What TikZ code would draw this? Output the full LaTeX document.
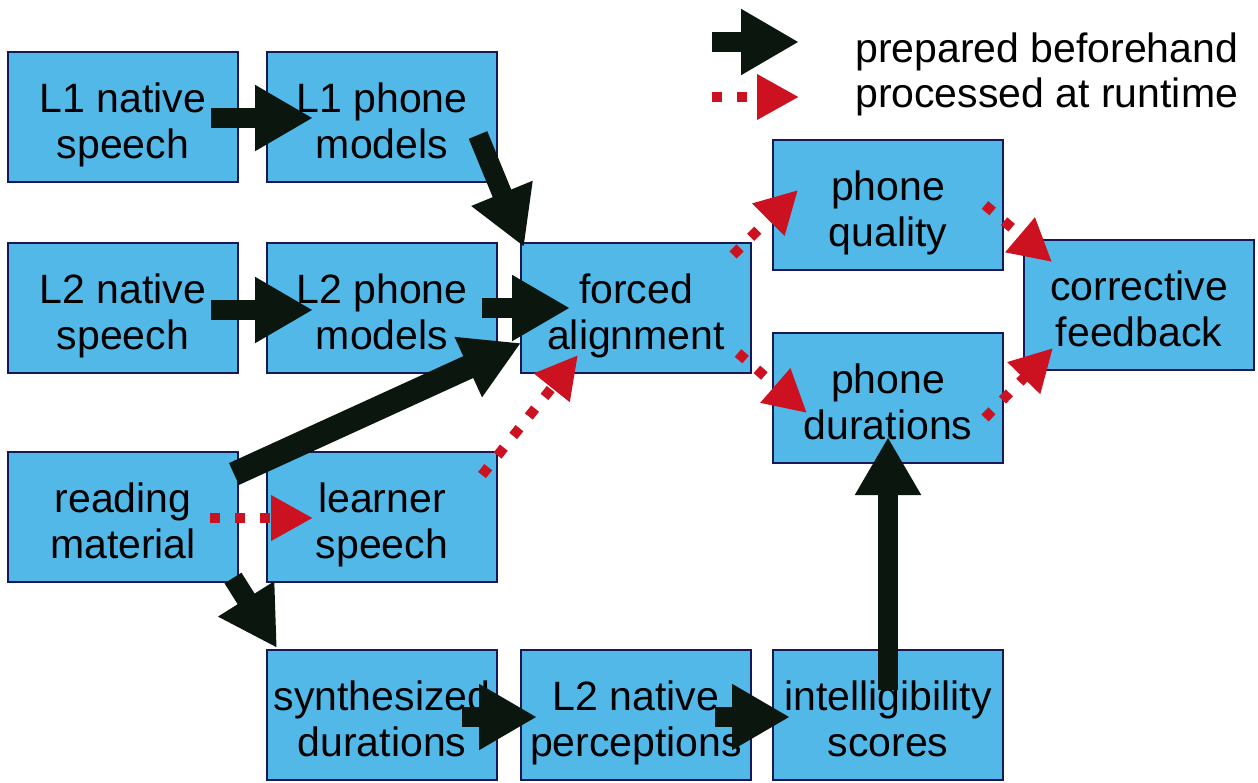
\documentclass[tikz,border=0pt]{standalone}
\usepackage{fontspec}
\setmainfont{Liberation Sans}
\usetikzlibrary{arrows.meta}

\definecolor{boxblue}{RGB}{82,184,232}
\definecolor{boxedge}{RGB}{22,24,88}
\definecolor{prepblack}{RGB}{10,22,14}
\definecolor{runred}{RGB}{204,18,32}

\tikzset{
  box/.style={draw=boxedge, line width=2.2pt, fill=boxblue,
    minimum width=230pt, minimum height=130pt, inner sep=0pt,
    align=center, font=\fontsize{41}{46}\selectfont,
    text height=90pt, text depth=8pt},
  prep/.style={draw=prepblack, line width=20pt,
    -{Triangle[length=58pt,width=62pt]}},
  run/.style={draw=runred, line width=10pt, dash pattern=on 10pt off 15pt,
    -{Triangle[length=42pt,width=43pt]}},
  legendtext/.style={anchor=base west, inner sep=0pt,
    font=\fontsize{41}{46}\selectfont}
}

\begin{document}
\begin{tikzpicture}[x=1pt, y=-1pt]
  % canvas
  \fill[white] (0,0) rectangle (1258,782);
  \useasboundingbox (0,0) rectangle (1258,782);

  % processing stages
  \node[box] (l1s) at (123,117) {L1 native\\speech};
  \node[box] (l1m) at (382,117) {L1 phone\\models};
  \node[box] (l2s) at (123,308) {L2 native\\speech};
  \node[box] (l2m) at (382,308) {L2 phone\\models};
  \node[box] (fa)  at (636,308) {forced\\alignment};
  \node[box] (pq)  at (888,205) {phone\\quality};
  \node[box] (pd)  at (888,398) {phone\\durations};
  \node[box] (cf)  at (1139,305) {corrective\\feedback};
  \node[box] (rm)  at (123,517) {reading\\material};
  \node[box] (ls)  at (382,517) {learner\\speech};
  \node[box] (sd)  at (382,715) {synthesized\\durations};
  \node[box] (np)  at (636,715) {L2 native\\perceptions};
  \node[box] (is)  at (888,715) {intelligibility\\scores};

  % arrow end points
  \coordinate (l1s-o) at (211,118);  \coordinate (l1m-i) at (313,118);
  \coordinate (l1m-o) at (478,135);  \coordinate (fa-i1) at (524,247);
  \coordinate (l2s-o) at (211,310);  \coordinate (l2m-i) at (313,310);
  \coordinate (l2m-o) at (482,308);  \coordinate (fa-i2) at (570,308);
  \coordinate (rm-o1) at (234,474);  \coordinate (fa-i3) at (521,343);
  \coordinate (rm-o2) at (210,518);  \coordinate (ls-i)  at (313,518);
  \coordinate (ls-o)  at (482,475);  \coordinate (fa-i4) at (578,355);
  \coordinate (fa-o1) at (733,255);  \coordinate (pq-i)  at (798,190);
  \coordinate (fa-o2) at (738,353);  \coordinate (pd-i1) at (807,413);
  \coordinate (pq-o)  at (985,205);  \coordinate (cf-i1) at (1052,262);
  \coordinate (pd-o)  at (985,418);  \coordinate (cf-i2) at (1053,348);
  \coordinate (is-o)  at (888,690);  \coordinate (pd-i2) at (888,437);
  \coordinate (rm-o3) at (233,578);  \coordinate (sd-i)  at (277,648);
  \coordinate (sd-o)  at (462,717);  \coordinate (np-i)  at (537,717);
  \coordinate (np-o)  at (715,717);  \coordinate (is-i)  at (790,717);

  % prepared beforehand
  \draw[prep] (l1s-o) -- (l1m-i);
  \draw[prep] (l1m-o) -- (fa-i1);
  \draw[prep] (l2s-o) -- (l2m-i);
  \draw[prep] (l2m-o) -- (fa-i2);
  \draw[prep, line width=24pt] (rm-o1) -- (fa-i3);
  \draw[prep] (is-o)  -- (pd-i2);
  \draw[prep] (rm-o3) -- (sd-i);
  \draw[prep] (sd-o)  -- (np-i);
  \draw[prep] (np-o)  -- (is-i);

  % processed at runtime
  \draw[run] (rm-o2) -- (ls-i);
  \draw[run] (ls-o)  -- (fa-i4);
  \draw[run] (fa-o1) -- (pq-i);
  \draw[run] (fa-o2) -- (pd-i1);
  \draw[run] (pq-o)  -- (cf-i1);
  \draw[run] (pd-o)  -- (cf-i2);

  % legend
  \coordinate (lg1a) at (712,42);  \coordinate (lg1b) at (799,42);
  \coordinate (lg2a) at (712,97);  \coordinate (lg2b) at (799,97);
  \draw[prep] (lg1a) -- (lg1b);
  \draw[run]  (lg2a) -- (lg2b);
  \node[legendtext] (lgt1) at (855,62)  {prepared beforehand};
  \node[legendtext] (lgt2) at (855,107) {processed at runtime};
\end{tikzpicture}
\end{document}
